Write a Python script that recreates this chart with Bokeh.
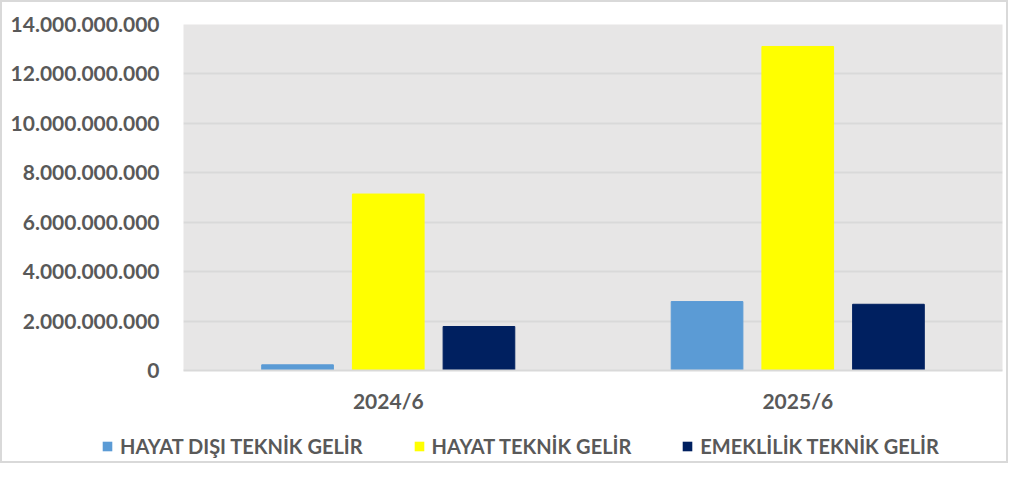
from bokeh.plotting import figure
from bokeh.layouts import column
from bokeh.models import (ColumnDataSource, FactorRange, Range1d, FixedTicker,
                          CustomJSTickFormatter, Legend, LegendItem)
from bokeh.transform import dodge
from bokeh.embed import file_html
from bokeh.resources import INLINE

categories = ["2024/6", "2025/6"]
series_names = ["HAYAT DIŞI TEKNİK GELİR", "HAYAT TEKNİK GELİR", "EMEKLİLİK TEKNİK GELİR"]
hayat_disi = [230_000_000, 2_790_000_000]
hayat = [7_140_000_000, 13_110_000_000]
emeklilik = [1_780_000_000, 2_680_000_000]
y_ticks = [0, 2_000_000_000, 4_000_000_000, 6_000_000_000, 8_000_000_000,
           10_000_000_000, 12_000_000_000, 14_000_000_000]
colors = ["#5b9bd5", "#ffff00", "#002060"]

source = ColumnDataSource(data=dict(cat=categories, a=hayat_disi, b=hayat, c=emeklilik))

FONT = "Lato"
TXT = "#595959"
offsets = [-0.2215, 0.0, 0.2215]
keys = ["a", "b", "c"]

x_range = FactorRange(*categories, range_padding=0)
p = figure(x_range=x_range, y_range=Range1d(0, y_ticks[-1]),
           width=1004, height=418, output_backend="svg", toolbar_location=None,
           min_border_left=181, min_border_right=4, min_border_top=22,
           min_border_bottom=50)
p.background_fill_color = "#e7e6e6"
p.border_fill_color = "white"
p.outline_line_color = None

for off, col, key in zip(offsets, colors, keys):
    p.vbar(x=dodge("cat", off, range=x_range), top=key, width=0.175,
           source=source, fill_color=col, line_color=col)

p.yaxis.ticker = FixedTicker(ticks=y_ticks)
p.yaxis.formatter = CustomJSTickFormatter(code="""
return Math.round(tick).toString().replace(/\\B(?=(\\d{3})+(?!\\d))/g, ".");
""")
for ax in (p.xaxis, p.yaxis):
    ax.major_label_text_font = FONT
    ax.major_label_text_font_style = "bold"
    ax.major_label_text_font_size = "21px"
    ax.major_label_text_color = TXT
    ax.major_tick_line_color = None
    ax.minor_tick_line_color = None
p.yaxis.axis_line_color = None
p.yaxis.major_label_standoff = 18
p.xaxis.axis_line_color = "#d9d9d9"
p.xaxis.axis_line_width = 2
p.xaxis.major_label_standoff = 11

p.xgrid.grid_line_color = None
p.ygrid.grid_line_color = "#d9d9d9"
p.ygrid.grid_line_width = 2

# legend strip below the chart (same series with zero-width bars; only the legend shows)
lg = figure(width=1004, height=41, output_backend="svg", toolbar_location=None,
            x_range=x_range, y_range=Range1d(-3e10, -2e10),
            x_axis_type=None, y_axis_type=None,
            min_border_left=0, min_border_right=0, min_border_top=0, min_border_bottom=0)
lg.frame_align = False
lg.outline_line_color = None
lg.background_fill_color = "white"
lg.border_fill_color = "white"
lg.xgrid.grid_line_color = None
lg.ygrid.grid_line_color = None
items = []
for name, off, col, key in zip(series_names, offsets, colors, keys):
    r = lg.vbar(x=dodge("cat", off, range=x_range), top=key, width=0,
                source=source, fill_color=col, line_color=None)
    items.append(LegendItem(label=name, renderers=[r]))

legend = Legend(items=items, orientation="horizontal", location=(99, 3))
legend.label_text_font = FONT
legend.label_text_font_style = "bold"
legend.label_text_font_size = "20px"
legend.label_text_color = TXT
legend.glyph_width = 12
legend.glyph_height = 12
legend.label_standoff = 7
legend.spacing = 50
legend.background_fill_alpha = 0
legend.border_line_color = None
legend.padding = 2
legend.margin = 0
lg.add_layout(legend, "center")

layout = column(p, lg, spacing=0)
layout.styles = {"border": "2px solid #d9d9d9"}
open("out.html", "w").write(file_html(layout, INLINE))
